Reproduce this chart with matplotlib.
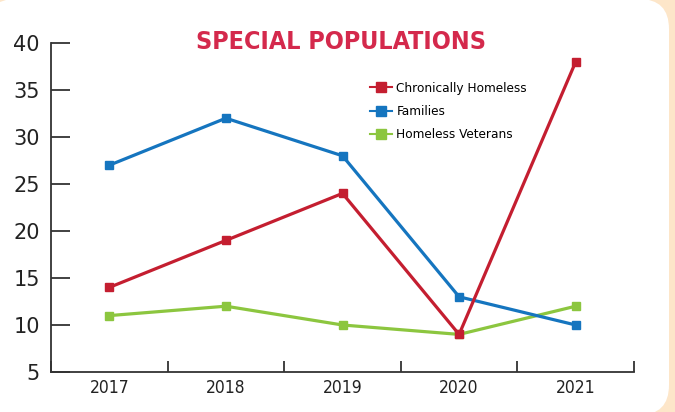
import numpy as np
import matplotlib
matplotlib.use("Agg")
import matplotlib.pyplot as plt
from matplotlib.patches import FancyBboxPatch
from matplotlib.lines import Line2D

# data
years = ["2017", "2018", "2019", "2020", "2021"]
chronic = [14, 19, 24, 9, 38]
families = [27, 32, 28, 13, 10]
veterans = [11, 12, 10, 9, 12]

red = "#c41e30"
blue = "#1575bf"
green = "#8cc63f"
title_red = "#d4294c"
cream = "#fde6c9"

cond = {"family": "DejaVu Sans", "stretch": "condensed"}

fig = plt.figure(figsize=(6.75, 4.12), dpi=100)
fig.patch.set_facecolor(cream)

# white rounded panel, in pixel units
bg = fig.add_axes([0, 0, 1, 1])
bg.set_xlim(0, 675)
bg.set_ylim(412, 0)
bg.axis("off")
bg.add_patch(FancyBboxPatch((-14, -1), 683, 416, boxstyle="round,pad=0,rounding_size=30",
                            facecolor="white", edgecolor="none"))

ax = fig.add_axes([51 / 675, 40 / 412, (634 - 51) / 675, (372 - 43) / 412])
ax.set_facecolor("none")
x = np.arange(len(years))

ax.plot(x, veterans, color=green, lw=2.3, marker="s", ms=5.5, zorder=3)
ax.plot(x, families, color=blue, lw=2.3, marker="s", ms=5.5, zorder=4)
ax.plot(x, chronic, color=red, lw=2.3, marker="s", ms=5.5, zorder=5)

ax.set_xlim(-0.5, len(years) - 0.5)
ax.set_ylim(5, 40)
ax.set_yticks(np.arange(5, 41, 5))
ax.set_xticks(x)
ax.set_xticklabels(years, fontsize=12.5, **cond)
ax.set_xticks(np.arange(-0.5, len(years), 1), minor=True)

for s in ["top", "right"]:
    ax.spines[s].set_visible(False)
for s in ["left", "bottom"]:
    ax.spines[s].set_color("#333333")
    ax.spines[s].set_linewidth(1.3)

ax.tick_params(axis="y", direction="in", length=14, width=1.3, color="#333333",
               labelsize=15, pad=8, labelcolor="#222222")
ax.tick_params(axis="x", which="major", length=0, pad=5, labelcolor="#222222")
ax.tick_params(axis="x", which="minor", direction="in", length=8, width=1.3, color="#333333")

fig.text(341 / 675, 1 - 42 / 412, "SPECIAL POPULATIONS", color=title_red,
         fontweight="bold", fontsize=18, ha="center", va="center", **cond)

handles = [
    Line2D([], [], color=red, lw=1.5, marker="s", ms=6.5),
    Line2D([], [], color=blue, lw=1.5, marker="s", ms=6.5),
    Line2D([], [], color=green, lw=1.5, marker="s", ms=6.5),
]
fig.legend(handles, ["Chronically Homeless", "Families", "Homeless Veterans"],
           loc="upper left", bbox_to_anchor=(358 / 675, 1 - 70 / 412),
           frameon=False, prop={"size": 9.7, **cond},
           handlelength=1.6, handletextpad=0.35, labelspacing=0.75)

fig.savefig("out.png", dpi=100, facecolor=cream)
